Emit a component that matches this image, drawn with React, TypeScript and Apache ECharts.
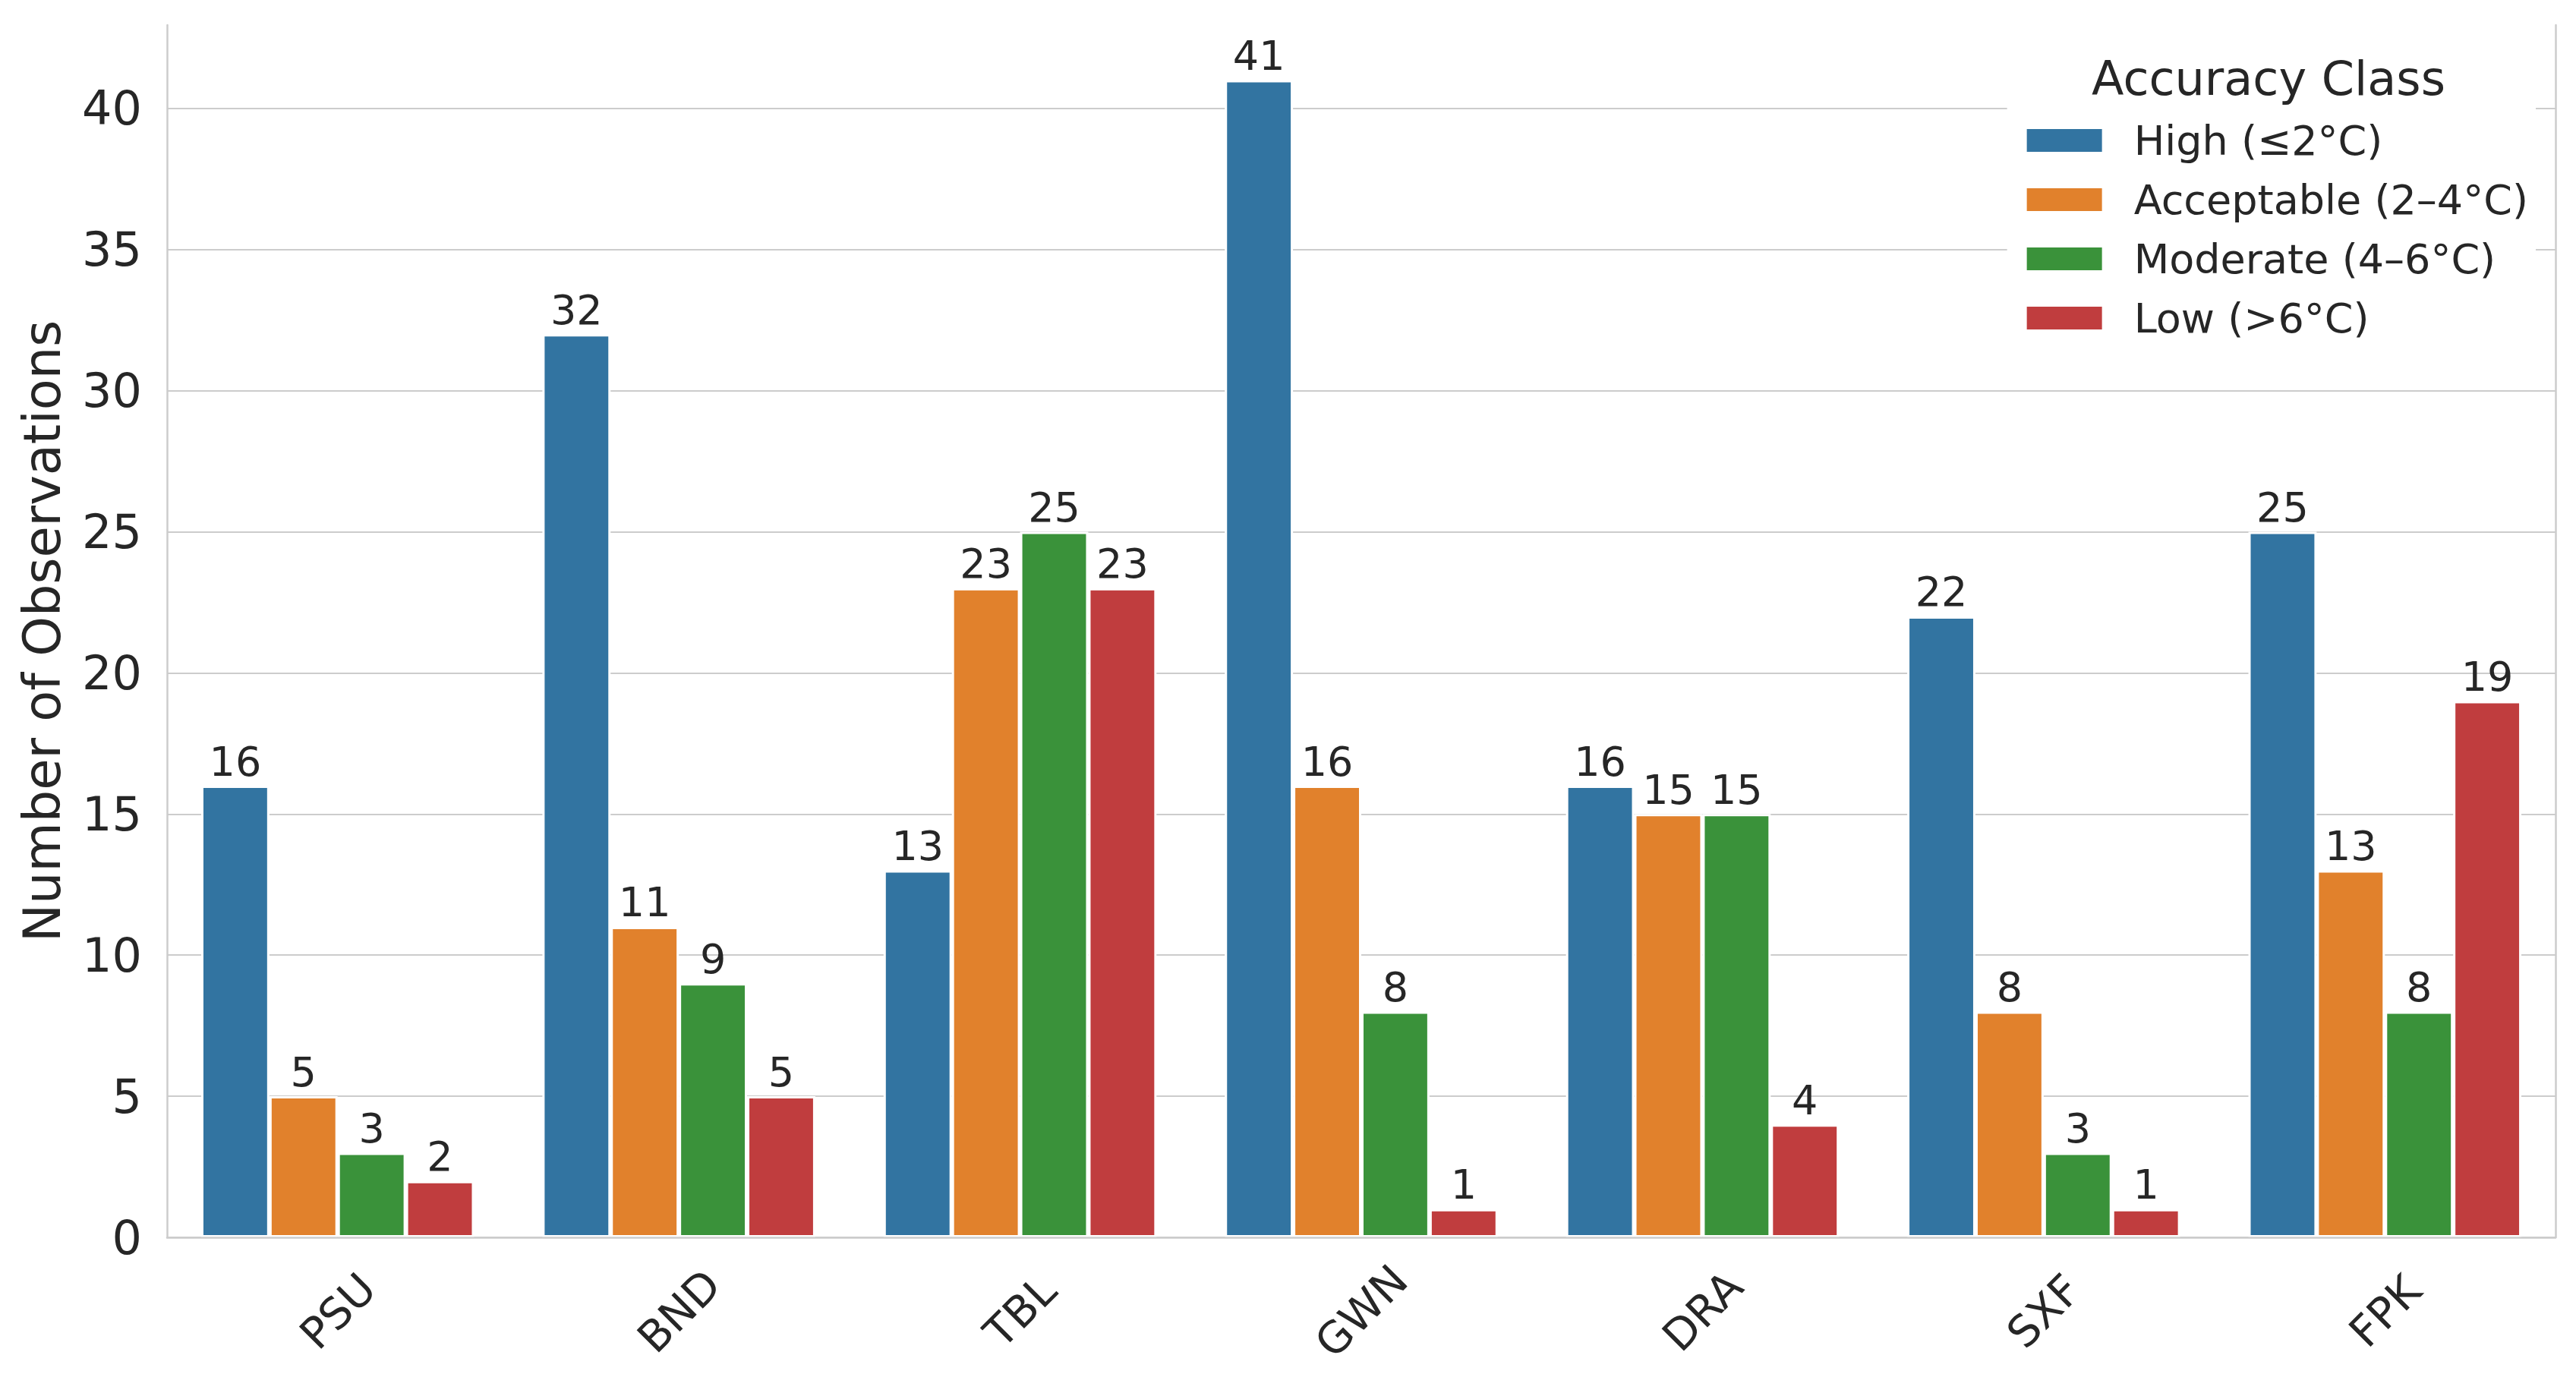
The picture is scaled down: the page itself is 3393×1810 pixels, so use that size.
import React, { useEffect, useRef } from "react";
import * as echarts from "echarts";

const stations = ["PSU", "BND", "TBL", "GWN", "DRA", "SXF", "FPK"];
const classNames = ["High (≤2°C)", "Acceptable (2–4°C)", "Moderate (4–6°C)", "Low (>6°C)"];
const highValues = [16, 32, 13, 41, 16, 22, 25];
const acceptableValues = [5, 11, 23, 16, 15, 8, 13];
const moderateValues = [3, 9, 25, 8, 15, 3, 8];
const lowValues = [2, 5, 23, 1, 4, 1, 19];
const classColors = ["#3274a1", "#e1812c", "#3a923a", "#c03d3e"];

const FONT = "DejaVu Sans";
const TEXT = "#262626";
const GRID = "#cccccc";

export default function App() {
  const ref = useRef<HTMLDivElement>(null);
  useEffect(() => {
    if (!ref.current) return;
    const chart = echarts.init(ref.current, undefined, { renderer: "svg" });
    const seriesValues = [highValues, acceptableValues, moderateValues, lowValues];
    const yMax = 42.95;
    chart.setOption({
      animation: false,
      backgroundColor: "#ffffff",
      textStyle: { fontFamily: FONT, color: TEXT },
      color: classColors,
      title: {
        text: "Accuracy Class",
        left: 2988,
        top: 72,
        padding: 0,
        textAlign: "center",
        z: 10,
        textStyle: { fontSize: 62, fontWeight: "normal", color: TEXT, fontFamily: FONT },
      },
      legend: {
        orient: "vertical",
        right: 53,
        top: 58,
        padding: [100, 10, 14, 24],
        backgroundColor: "#ffffff",
        itemWidth: 101,
        itemHeight: 32,
        itemGap: 24,
        icon: "rect",
        selectedMode: false,
        z: 8,
        textStyle: { fontSize: 54, color: TEXT, fontFamily: FONT, padding: [0, 0, 0, 36] },
        data: classNames,
      },
      grid: { left: 220, right: 27, top: 33, bottom: 180, containLabel: false },
      xAxis: {
        type: "category",
        data: stations,
        z: 10,
        axisTick: { show: false },
        axisLine: { show: true, lineStyle: { color: GRID, width: 2.5 } },
        axisLabel: {
          rotate: 45,
          align: "center",
          verticalAlign: "middle",
          margin: 97,
          fontSize: 57,
          color: TEXT,
          fontFamily: FONT,
        },
      },
      yAxis: [
        {
          type: "value",
          min: 0,
          max: yMax,
          interval: 5,
          name: "Number of Observations",
          nameLocation: "middle",
          nameGap: 131,
          nameTextStyle: { fontSize: 67, color: TEXT, fontFamily: FONT },
          axisLine: { show: true, lineStyle: { color: GRID, width: 2.5 } },
          axisTick: { show: false },
          axisLabel: { fontSize: 62, color: TEXT, fontFamily: FONT, margin: 33, showMaxLabel: false },
          splitLine: { show: true, showMaxLine: false, lineStyle: { color: GRID, width: 2 } },
        },
        {
          type: "value",
          position: "right",
          min: 0,
          max: yMax,
          interval: 5,
          axisLine: { show: true, lineStyle: { color: GRID, width: 2.5 } },
          axisTick: { show: false },
          axisLabel: { show: false },
          splitLine: { show: false },
        },
      ],
      series: classNames.map((name, i) => ({
        name,
        type: "bar",
        data: seriesValues[i],
        barGap: "0%",
        barCategoryGap: "20%",
        itemStyle: { color: classColors[i], borderColor: "#ffffff", borderWidth: 3 },
        label: {
          show: true,
          position: "top",
          distance: 5,
          fontSize: 54,
          color: TEXT,
          fontFamily: FONT,
        },
      })),
    });
    return () => chart.dispose();
  }, []);
  return (
    <div
      ref={ref}
      style={{ position: "fixed", left: 0, top: 0, width: 3393, height: 1810 }}
    />
  );
}
